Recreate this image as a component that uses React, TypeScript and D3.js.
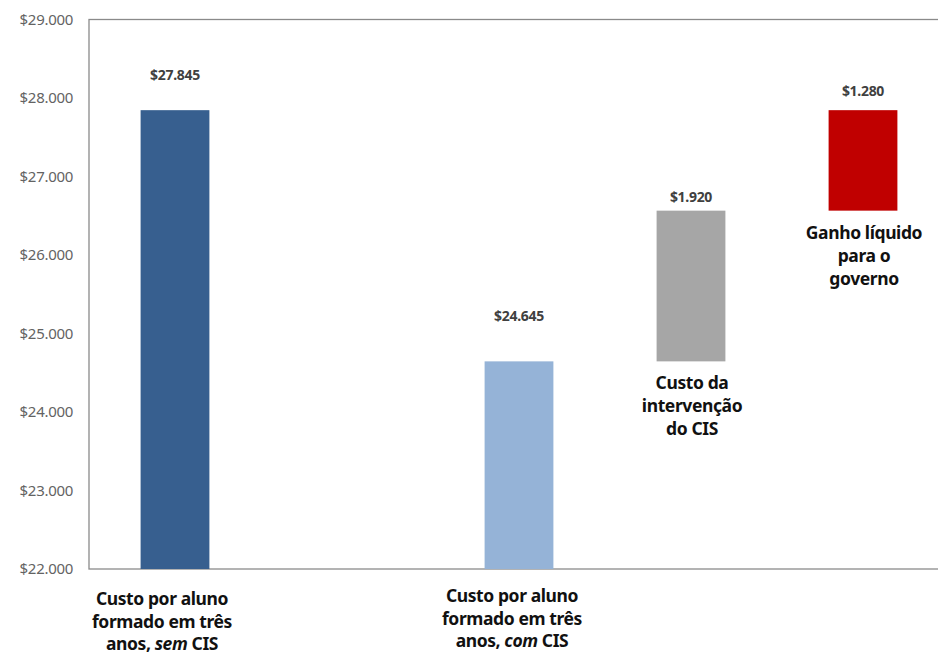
import React from "react";
import * as d3 from "d3";

// ---- data ----
const slots = ["semCIS", "gap", "comCIS", "custo", "ganho"];
const barKeys = ["semCIS", "comCIS", "custo", "ganho"];
const barValues = [27845, 24645, 1920, 1280];
const barColors = ["#375F8F", "#95B3D7", "#A6A6A6", "#C00000"];
const yTicks = [22000, 23000, 24000, 25000, 26000, 27000, 28000, 29000];
const catLabels: { text: string; italic?: boolean }[][][] = [
  [[{ text: "Custo por aluno" }], [{ text: "formado em três" }], [{ text: "anos, " }, { text: "sem", italic: true }, { text: " CIS" }]],
  [[{ text: "Custo por aluno" }], [{ text: "formado em três" }], [{ text: "anos, " }, { text: "com", italic: true }, { text: " CIS" }]],
  [[{ text: "Custo da" }], [{ text: "intervenção" }], [{ text: "do CIS" }]],
  [[{ text: "Ganho líquido" }], [{ text: "para o" }], [{ text: "governo" }]],
];

// ---- layout ----
const W = 938;
const H = 658;
const plot = { left: 89, right: 949, top: 19.5, bottom: 569 };
const labelGaps = [30, 40, 9, 14];
const font = "'Noto Sans', 'Open Sans', sans-serif";

const locale = d3.formatLocale({
  decimal: ",",
  thousands: ".",
  grouping: [3],
  currency: ["$", ""],
});
const fmt = locale.format("$,.0f");

export default function App() {
  const x = d3
    .scaleBand<string>()
    .domain(slots)
    .range([plot.left, plot.right])
    .paddingInner(0.6)
    .paddingOuter(0.3);
  const y = d3.scaleLinear().domain([22000, 29000]).range([plot.bottom, plot.top]);
  const yMin = y.domain()[0];

  // waterfall extents
  const lo = [yMin, yMin, barValues[1], barValues[1] + barValues[2]];
  const hi = [barValues[0], barValues[1], barValues[1] + barValues[2], barValues[1] + barValues[2] + barValues[3]];

  return (
    <svg width={W} height={H} style={{ position: "absolute", left: 0, top: 0, background: "#fff" }}>
      <rect x={0} y={0} width={W} height={H} fill="#fff" />
      {/* plot border */}
      <rect
        x={plot.left}
        y={plot.top}
        width={plot.right - plot.left}
        height={plot.bottom - plot.top}
        fill="none"
        stroke="#8a8a8a"
        strokeWidth={1.3}
      />
      {/* y ticks */}
      {yTicks.map((t) => (
        <text
          key={t}
          x={73}
          y={y(t)}
          dy="0.35em"
          textAnchor="end"
          fontFamily={font}
          fontSize={15}
          letterSpacing={-0.3}
          fill="#636363"
        >
          {fmt(t)}
        </text>
      ))}
      {/* bars */}
      {barKeys.map((k, i) => (
        <rect
          key={k}
          x={x(k)!}
          y={y(hi[i])}
          width={x.bandwidth()}
          height={y(lo[i]) - y(hi[i])}
          fill={barColors[i]}
        />
      ))}
      {/* value labels */}
      {barKeys.map((k, i) => (
        <text
          key={k + "v"}
          x={x(k)! + x.bandwidth() / 2}
          y={y(hi[i]) - labelGaps[i]}
          textAnchor="middle"
          fontFamily={font}
          fontWeight="bold"
          fontSize={14}
          letterSpacing={-0.3}
          fill="#404040"
        >
          {fmt(barValues[i])}
        </text>
      ))}
      {/* category labels */}
      {barKeys.map((k, i) => {
        const cx = x(k)! + x.bandwidth() / 2 + (i < 2 ? (i === 0 ? -13 : -7) : 1);
        const y0 = i < 2 ? plot.bottom + (i === 0 ? 36 : 33) : y(lo[i]) + 28;
        const lh = i < 2 ? 22.5 : 23;
        return (
          <text
            key={k + "c"}
            textAnchor="middle"
            fontFamily={font}
            fontWeight="bold"
            fontSize={17.5}
            letterSpacing={-0.4}
            fill="#111"
          >
            {catLabels[i].map((line, li) => (
              <tspan key={li} x={cx} y={y0 + li * lh}>
                {line.map((seg, si) => (
                  <tspan key={si} fontStyle={seg.italic ? "italic" : "normal"}>
                    {seg.text}
                  </tspan>
                ))}
              </tspan>
            ))}
          </text>
        );
      })}
    </svg>
  );
}
